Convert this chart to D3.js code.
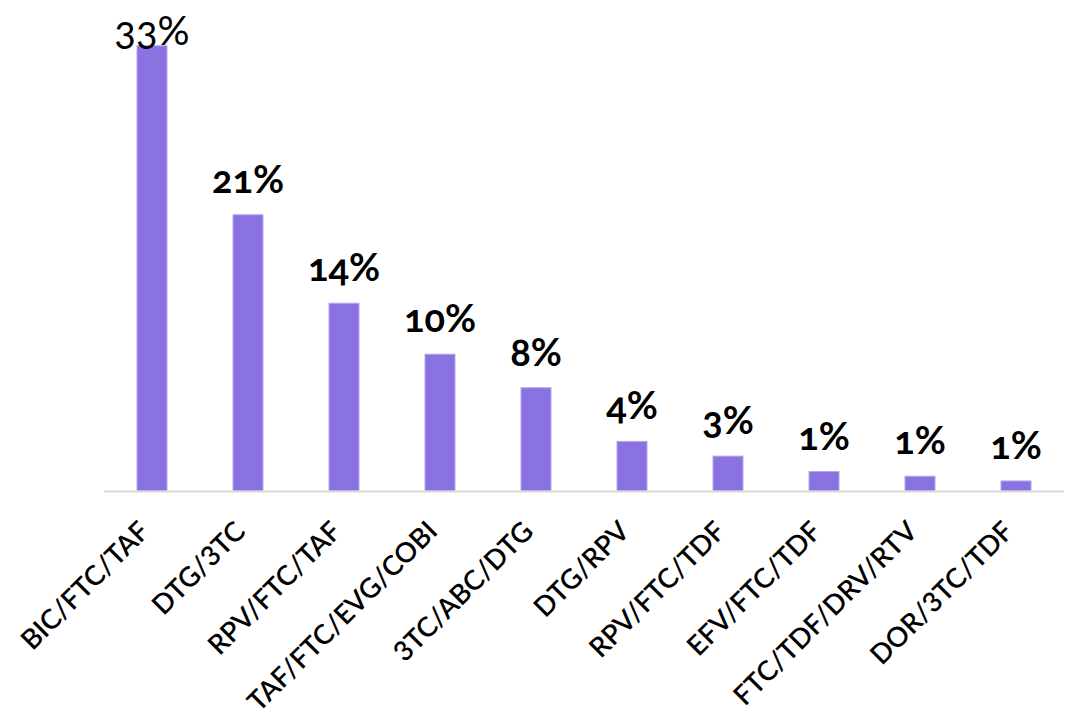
<!DOCTYPE html>
<html lang="en">
<head>
  <meta charset="UTF-8">
  <script src="https://d3js.org/d3.v7.min.js"></script>
  <title>Regimen share</title>
  <style>
    body { margin: 0; background: #fff; overflow: hidden; }
    .cat-label { font-family: Lato, "Open Sans", sans-serif; font-size: 27.5px; font-weight: 600; fill: #000; }
    .val-label { font-family: Lato, "Open Sans", sans-serif; font-size: 38px; font-weight: bold; fill: #000;
                 font-variant-numeric: oldstyle-nums; font-feature-settings: "onum" 1; }
  </style>
</head>
<body>
<script>
  // Regimens and their share of patients (%)
  const regimens = ["BIC/FTC/TAF", "DTG/3TC", "RPV/FTC/TAF", "TAF/FTC/EVG/COBI", "3TC/ABC/DTG",
                    "DTG/RPV", "RPV/FTC/TDF", "EFV/FTC/TDF", "FTC/TDF/DRV/RTV", "DOR/3TC/TDF"];
  const shares = [33.2, 20.6, 14.0, 10.2, 7.7, 3.7, 2.6, 1.45, 1.1, 0.75];

  const width = 1068, height = 718;
  const svg = d3.select("body").append("svg")
    .attr("width", width)
    .attr("height", height);

  const baseY = 491;
  const x = d3.scaleBand()
    .domain(regimens)
    .range([104, 1064])
    .paddingInner(0.6875)
    .paddingOuter(0.34375);

  const y = d3.scaleLinear()
    .domain([0, 35])
    .range([baseY, baseY - 35 * 13.41]);

  const data = regimens.map((r, i) => ({ name: r, value: shares[i] }));

  // Bars
  svg.append("g")
    .selectAll("rect")
    .data(data)
    .enter().append("rect")
    .attr("x", d => x(d.name))
    .attr("y", d => y(d.value))
    .attr("width", x.bandwidth())
    .attr("height", d => y(0) - y(d.value))
    .attr("fill", "#8a73e0")
    .attr("stroke", "#b3a4f0")
    .attr("stroke-width", 1);

  // Baseline
  svg.append("line")
    .attr("x1", 104).attr("x2", 1064)
    .attr("y1", baseY + 0.5).attr("y2", baseY + 0.5)
    .attr("stroke", "#d9d9d9")
    .attr("stroke-width", 2);

  // Value labels (the top one is drawn lighter and larger, as in the source)
  svg.append("g")
    .selectAll("text")
    .data(data)
    .enter().append("text")
    .attr("class", "val-label")
    .attr("x", d => x(d.name) + x.bandwidth() / 2)
    .attr("y", (d, i) => i === 0 ? 45 : y(d.value) - 22)
    .attr("text-anchor", "middle")
    .style("font-weight", (d, i) => i === 0 ? "normal" : null)
    .style("font-size", (d, i) => i === 0 ? "40px" : null)
    .text(d => Math.round(d.value) + "%");

  // Category labels, rotated
  svg.append("g")
    .selectAll("text")
    .data(data)
    .enter().append("text")
    .attr("class", "cat-label")
    .attr("text-anchor", "end")
    .attr("transform", d => `translate(${x(d.name) + x.bandwidth() / 2 - 1},${baseY + 42}) rotate(-45)`)
    .text(d => d.name);
</script>
</body>
</html>
